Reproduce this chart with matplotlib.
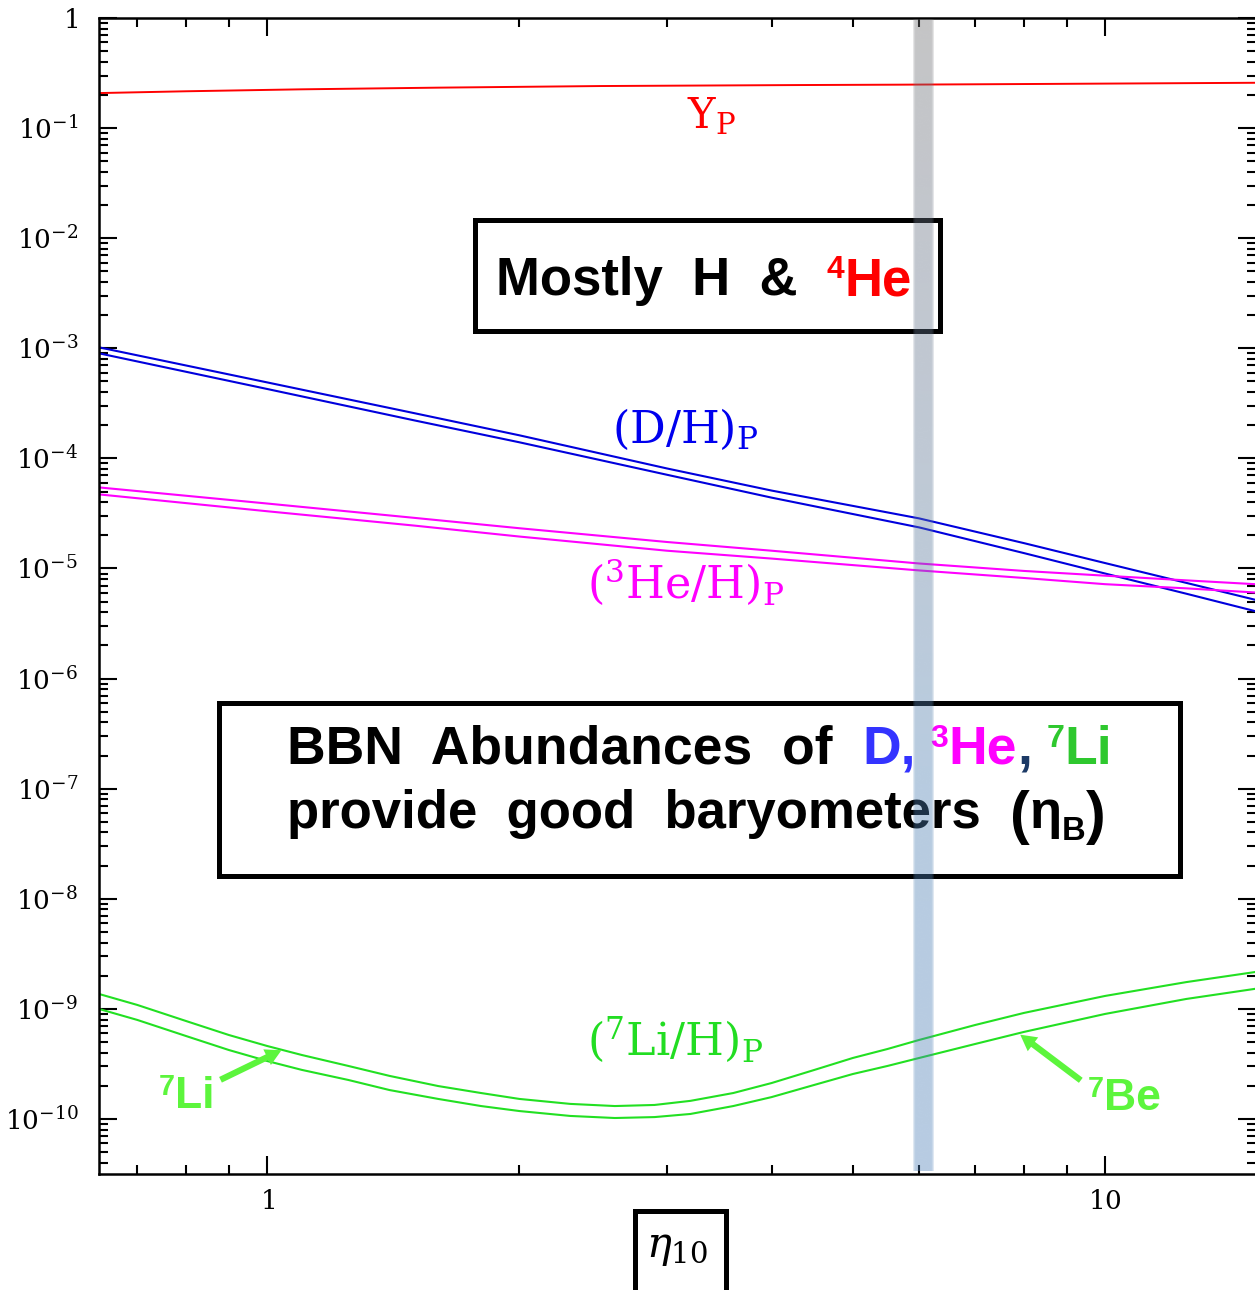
import matplotlib
matplotlib.use("Agg")
import matplotlib.pyplot as plt
import numpy as np
from matplotlib.patches import Rectangle, FancyArrowPatch
from matplotlib.ticker import FixedLocator, FixedFormatter, LogLocator, NullFormatter

plt.rcParams["mathtext.fontset"] = "dejavuserif"

# primordial helium mass fraction
eta_yp = [0.63, 0.8, 1.1, 1.6, 2.5, 4.3, 5.7, 8.6, 15.1]
yp = [0.208, 0.216, 0.225, 0.233, 0.241, 0.246, 0.248, 0.252, 0.258]

# D/H and 3He/H bands (upper / lower edge)
eta_dhe = [0.63, 1.0, 1.5, 2.0, 3.0, 4.0, 6.0, 8.0, 10.0, 12.5, 15.1]
dh_hi = [1.02e-3, 4.90e-4, 2.57e-4, 1.62e-4, 8.1e-5, 5.1e-5, 2.85e-5, 1.70e-5, 1.12e-5, 7.4e-6, 5.2e-6]
dh_lo = [9.0e-4, 4.27e-4, 2.21e-4, 1.40e-4, 7.1e-5, 4.4e-5, 2.36e-5, 1.38e-5, 9.0e-6, 5.9e-6, 4.1e-6]
he3_hi = [5.45e-5, 3.89e-5, 2.88e-5, 2.32e-5, 1.74e-5, 1.45e-5, 1.11e-5, 9.5e-6, 8.6e-6, 7.8e-6, 7.2e-6]
he3_lo = [4.71e-5, 3.31e-5, 2.45e-5, 1.95e-5, 1.45e-5, 1.23e-5, 9.6e-6, 8.2e-6, 7.2e-6, 6.6e-6, 6.05e-6]

# 7Li/H band
eta_li = [0.63, 0.7, 0.8, 0.9, 1.0, 1.1, 1.25, 1.4, 1.6, 1.8, 2.0, 2.3, 2.6, 2.9, 3.2,
          3.6, 4.0, 4.5, 5.0, 5.5, 6.0, 7.0, 8.0, 10.0, 12.5, 15.1]
li_hi = [1.365e-9, 1.085e-9, 7.76e-10, 5.79e-10, 4.60e-10, 3.81e-10, 3.03e-10, 2.46e-10,
         1.99e-10, 1.72e-10, 1.52e-10, 1.37e-10, 1.31e-10, 1.34e-10, 1.46e-10,
         1.72e-10, 2.12e-10, 2.79e-10, 3.58e-10, 4.32e-10, 5.22e-10, 7.14e-10, 9.18e-10,
         1.31e-9, 1.75e-9, 2.16e-9]
li_lo = [9.98e-10, 7.93e-10, 5.67e-10, 4.23e-10, 3.36e-10, 2.79e-10, 2.26e-10, 1.83e-10,
         1.52e-10, 1.31e-10, 1.18e-10, 1.065e-10, 1.02e-10, 1.04e-10, 1.11e-10,
         1.31e-10, 1.58e-10, 2.04e-10, 2.56e-10, 3.03e-10, 3.58e-10, 4.80e-10, 6.17e-10,
         8.99e-10, 1.23e-9, 1.52e-9]

# CMB-preferred eta_10 range
band = (5.90, 6.25)

y_ticks = [10.0 ** -k for k in range(11)]
y_labels = ["$1$"] + [r"$10^{-%d}$" % k for k in range(1, 11)]
x_ticks = [1, 10]
x_labels = ["$1$", "$10$"]

W, H = 1255, 1290
fig = plt.figure(figsize=(W / 100, H / 100), dpi=100)


def fx(px):
    return px / W


def fy(py):
    return 1 - py / H


ax = fig.add_axes([fx(99), fy(1174), (1256 - 99) / W, (1174 - 18) / H])
ax.set_xscale("log")
ax.set_yscale("log")
ax.set_xlim(0.63, 15.14)
ax.set_ylim(10 ** -10.5, 1)

ax.plot(eta_yp, yp, color="#ff0000", lw=1.4)
ax.plot(eta_dhe, dh_hi, color="#0000dd", lw=1.5)
ax.plot(eta_dhe, dh_lo, color="#0000dd", lw=1.5)
ax.plot(eta_dhe, he3_hi, color="#ff00ff", lw=1.5)
ax.plot(eta_dhe, he3_lo, color="#ff00ff", lw=1.5)
ax.plot(eta_li, li_hi, color="#22e022", lw=1.5)
ax.plot(eta_li, li_lo, color="#22e022", lw=1.5)

ax.yaxis.set_major_locator(FixedLocator(y_ticks))
ax.yaxis.set_major_formatter(FixedFormatter(y_labels))
ax.yaxis.set_minor_locator(LogLocator(base=10, subs=range(2, 10), numticks=40))
ax.yaxis.set_minor_formatter(NullFormatter())
ax.xaxis.set_major_locator(FixedLocator(x_ticks))
ax.xaxis.set_major_formatter(FixedFormatter(x_labels))
ax.xaxis.set_minor_locator(LogLocator(base=10, subs=range(2, 10), numticks=40))
ax.xaxis.set_minor_formatter(NullFormatter())
ax.tick_params(which="both", direction="in", top=True, right=True, width=1.5, colors="black")
ax.tick_params(which="major", length=13, labelsize=19)
ax.tick_params(which="minor", length=6.5)
ax.tick_params(axis="y", which="major", pad=15)
ax.tick_params(axis="x", which="major", pad=11)
for s in ax.spines.values():
    s.set_linewidth(1.8)

# curve labels
fig.text(fx(687), fy(128), r"$\mathrm{Y_P}$", fontsize=30, color="#ff0000", va="baseline")
fig.text(fx(612), fy(443), r"$\mathrm{(D/H)_P}$", fontsize=32, color="#0000ee", va="baseline")
fig.text(fx(587), fy(598), r"$\mathrm{({}^{3}He/H)_P}$", fontsize=32, color="#ff00ff", va="baseline")
fig.text(fx(587), fy(1055), r"$\mathrm{({}^{7}Li/H)_P}$", fontsize=32, color="#22dd22", va="baseline")

renderer = fig.canvas.get_renderer()
SANS = "Liberation Sans"


def text_width(s, size):
    t = fig.text(0, 0, s, fontsize=size, family=SANS, weight="bold")
    w = t.get_window_extent(renderer).width
    t.remove()
    return w


def draw_runs(x, base, runs, size):
    space = text_width("x x", size) - text_width("xx", size)
    for s, color, rel, rise in runs:
        if s == " ":
            x += space
            continue
        t = fig.text(fx(x), fy(base - rise), s, fontsize=size * rel, family=SANS,
                     weight="bold", color=color, ha="left", va="baseline")
        x += t.get_window_extent(renderer).width


def frame(x0, y0, x1, y1, lw):
    fig.add_artist(Rectangle((fx(x0), fy(y1)), (x1 - x0) / W, (y1 - y0) / H,
                             transform=fig.transFigure, fill=False, ec="black", lw=lw))


frame(474.5, 219.5, 939.5, 330.5, 3.6)
draw_runs(496, 295, [("Mostly  H  &", "black", 1, 0), (" ", None, 1, 0), (" ", None, 1, 0),
                     ("4", "#ff0000", 0.6, 17), ("He", "#ff0000", 1, 0)], 38)

frame(219, 702.5, 1179.5, 875.5, 3.6)
draw_runs(287, 764, [("BBN  Abundances  of", "black", 1, 0), (" ", None, 1, 0), (" ", None, 1, 0),
                     ("D,", "#3333ff", 1, 0), (" ", None, 1, 0),
                     ("3", "#ff00ff", 0.6, 17), ("He", "#ff00ff", 1, 0), (",", "#1c3a66", 1, 0),
                     (" ", None, 1, 0), ("7", "#2ec82e", 0.6, 17), ("Li", "#2ec82e", 1, 0)], 38.5)
draw_runs(287, 828, [("provide  good  baryometers", "black", 1, 0), (" ", None, 1, 0), (" ", None, 1, 0),
                     ("(", "black", 1.12, -5), ("\u03b7", "black", 1, 0), ("B", "black", 0.62, -12),
                     (")", "black", 1.12, -5)], 38)

# isotope arrows
LIME = "#5cf53c"
draw_runs(159, 1108, [("7", LIME, 0.65, 13), ("Li", LIME, 1, 0)], 32)
draw_runs(1088, 1110, [("7", LIME, 0.65, 13), ("Be", LIME, 1, 0)], 32)
for tail, head in [((218, 1081), (284, 1049)), ((1083, 1082), (1018, 1033))]:
    fig.add_artist(FancyArrowPatch((fx(tail[0]), fy(tail[1])), (fx(head[0]), fy(head[1])),
                                   transform=fig.transFigure, color=LIME, lw=0,
                                   arrowstyle="simple,head_length=1.15,head_width=1.25,tail_width=0.45",
                                   mutation_scale=10))

# x-axis label in its own frame
frame(634.5, 1210.5, 725.5, 1300, 3.6)
fig.text(fx(646), fy(1257), r"$\eta_{10}$", fontsize=30, va="baseline")

# translucent band over the preferred eta range
inv = fig.transFigure.inverted()
bx0 = inv.transform(ax.transData.transform((band[0], 1e-5)))[0]
bx1 = inv.transform(ax.transData.transform((band[1], 1e-5)))[0]
pos = ax.get_position()
band_ax = fig.add_axes([bx0, pos.y0 + 3 / H, bx1 - bx0, pos.height - 4 / H], zorder=10)
t = np.linspace(0, 1, 200)
stops = [0, 0.22, 0.42, 0.67, 1]
rgb = np.stack([np.interp(t, stops, [0.43, 0.40, 0.37, 0.30, 0.30]),
                np.interp(t, stops, [0.43, 0.45, 0.475, 0.50, 0.50]),
                np.interp(t, stops, [0.44, 0.53, 0.60, 0.70, 0.72])], axis=-1)
edge = np.array([0.45, 0.8] + [1.0] * 16 + [0.8, 0.45])
img = np.zeros((len(t), len(edge), 4))
img[..., :3] = rgb[:, None, :]
img[..., 3] = 0.4 * edge[None, :]
band_ax.imshow(img, aspect="auto", interpolation="bilinear", extent=[0, 1, 0, 1])
band_ax.axis("off")

fig.savefig("out.png", dpi=100)
